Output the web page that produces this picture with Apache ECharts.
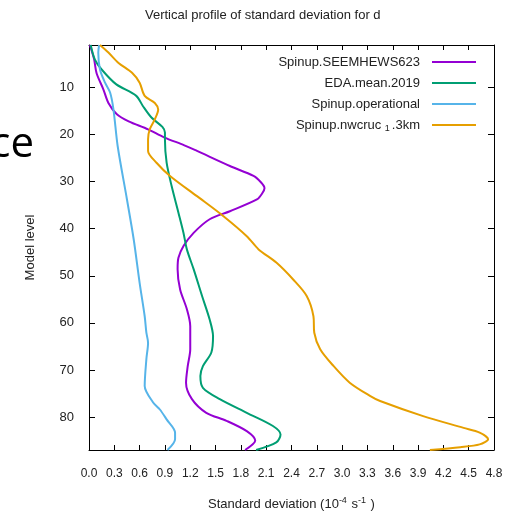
<!DOCTYPE html>
<html>
<head>
<meta charset="utf-8">
<script src="https://cdn.jsdelivr.net/npm/echarts@6/dist/echarts.min.js"></script>
<style>
  html, body { margin: 0; padding: 0; background: #fff; }
  #chart { width: 510px; height: 513px; }
</style>
</head>
<body>
<div id="chart"></div>
<script>
// model levels (y) and std dev values (x, 1e-4 s^-1)
const seemLevels = [1, 4, 7, 10.4, 13.3, 15.7, 17.2, 18.9, 20.6, 22.3, 23.5, 26.7, 28.8, 30.2, 31.4, 32.6, 33.8, 36.3, 38, 40.9, 43.7, 46.2, 48.6, 52.9, 57.1, 60.7, 65.6, 69.2, 72.7, 76.2, 79.1, 80.8, 83, 85, 87];
const seemValues = [0.01, 0.06, 0.09, 0.17, 0.23, 0.33, 0.47, 0.70, 0.89, 1.13, 1.28, 1.67, 1.95, 2.04, 2.08, 2.05, 1.99, 1.67, 1.43, 1.24, 1.12, 1.06, 1.05, 1.08, 1.16, 1.20, 1.20, 1.17, 1.15, 1.22, 1.39, 1.63, 1.87, 1.97, 1.85];

const edaLevels = [1, 4.1, 6.2, 9.3, 11.8, 14, 16.4, 18.4, 19.6, 21, 26, 31, 36.6, 40.9, 44.4, 48.6, 54.3, 59.3, 62.8, 66.3, 69.2, 71.3, 73.8, 76.2, 79.1, 81.9, 83.7, 85.4, 87];
const edaValues = [0.02, 0.07, 0.15, 0.32, 0.56, 0.64, 0.74, 0.87, 0.90, 0.90, 0.92, 0.98, 1.06, 1.12, 1.16, 1.24, 1.34, 1.43, 1.47, 1.45, 1.35, 1.32, 1.35, 1.55, 1.87, 2.18, 2.27, 2.22, 1.98];

const operLevels = [1, 2.6, 6.2, 9, 11.1, 14.7, 22.5, 33.8, 42.3, 51.5, 58.6, 62.1, 64.2, 67.7, 73.4, 76.9, 78.4, 80.5, 83.3, 84.7, 87];
const operValues = [0.12, 0.11, 0.13, 0.19, 0.25, 0.29, 0.34, 0.45, 0.53, 0.60, 0.66, 0.68, 0.70, 0.68, 0.66, 0.76, 0.84, 0.92, 1.02, 1.02, 0.93];

const nwcLevels = [1, 2.6, 4.8, 6.9, 9, 11.8, 13.3, 14.7, 16.8, 18.9, 21, 23.5, 26, 28.8, 33.1, 37.3, 41.6, 44.4, 47.2, 50.8, 54.3, 58.6, 62.1, 65.6, 69.2, 72.7, 75.5, 76.6, 79.8, 82.3, 83.3, 84.7, 85.8, 86.4, 87];
const nwcValues = [0.13, 0.23, 0.35, 0.51, 0.60, 0.66, 0.78, 0.82, 0.78, 0.72, 0.70, 0.70, 0.80, 0.96, 1.28, 1.59, 1.87, 2.01, 2.22, 2.42, 2.58, 2.66, 2.67, 2.74, 2.90, 3.09, 3.33, 3.45, 3.96, 4.44, 4.63, 4.73, 4.63, 4.40, 4.04];

const seriesNames = ['Spinup.SEEMHEWS623', 'EDA.mean.2019', 'Spinup.operational', 'Spinup.nwcruc_1.3km'];
const seriesColors = ['#9400d3', '#009e73', '#56b4e9', '#e69f00'];
const levelTicks = [10, 20, 30, 40, 50, 60, 70, 80];

const chart = echarts.init(document.getElementById('chart'));

const toPairs = (levels, values) => levels.map((l, i) => [values[i], l]);
const allData = [
  toPairs(seemLevels, seemValues),
  toPairs(edaLevels, edaValues),
  toPairs(operLevels, operValues),
  toPairs(nwcLevels, nwcValues)
];

const FONT = 'Liberation Sans';
const axisCommon = {
  axisLine: { show: true, onZero: false, lineStyle: { color: '#000', width: 1 } },
  splitLine: { show: false }
};

const option = {
  animation: false,
  textStyle: { fontFamily: FONT },
  graphic: [
    {
      type: 'text', left: 145, top: 9,
      style: { text: 'Vertical profile of standard deviation for d', font: '13px "Liberation Sans"', fill: '#222' }
    },
    {
      type: 'text', x: 34, y: 166,
      style: { text: 'ce', font: '42px "Open Sans"', fill: '#000', align: 'right', verticalAlign: 'bottom' }
    }
  ],
  grid: { left: 89, right: 16, top: 45, bottom: 63, outerBoundsMode: 'none', containLabel: false },
  legend: {
    orient: 'vertical',
    right: 29,
    top: 49,
    align: 'right',
    icon: 'rect',
    itemWidth: 44,
    itemHeight: 2,
    itemGap: 5,
    data: seriesNames,
    formatter: name => name === 'Spinup.nwcruc_1.3km' ? 'Spinup.nwcruc {sub|1}.3km' : name,
    textStyle: {
      fontFamily: FONT, fontSize: 13, color: '#222', lineHeight: 16, padding: [0, 7, 0, 0],
      rich: { sub: { fontSize: 9, lineHeight: 16, padding: [7, 2, 0, 0] } }
    }
  },
  xAxis: [
    Object.assign({
      type: 'value', position: 'bottom', min: 0, max: 4.8, interval: 0.3,
      name: 'Standard deviation (10{sup|-4} s{sup|-1} )',
      nameLocation: 'middle', nameGap: 46,
      nameTextStyle: {
        fontFamily: FONT, fontSize: 13, color: '#222',
        rich: { sup: { fontSize: 9, padding: [0, 1, 8, 0] } }
      },
      axisTick: { show: true, inside: true, length: 5, lineStyle: { color: '#000' } },
      axisLabel: { formatter: v => v.toFixed(1), fontSize: 12, color: '#222', margin: 18, fontFamily: FONT }
    }, axisCommon),
    Object.assign({
      type: 'value', position: 'top', min: 0, max: 4.8, interval: 0.3,
      axisTick: { show: true, inside: true, length: 5, lineStyle: { color: '#000' } },
      axisLabel: { show: false }
    }, axisCommon)
  ],
  yAxis: [
    Object.assign({
      type: 'value', position: 'left', inverse: true, min: 1, max: 87,
      name: 'Model level', nameLocation: 'middle', nameGap: 52,
      nameTextStyle: { fontFamily: FONT, fontSize: 13, color: '#222' },
      axisTick: { show: true, inside: true, length: 6, customValues: levelTicks, lineStyle: { color: '#000' } },
      axisLabel: { customValues: levelTicks, fontSize: 13, color: '#222', margin: 15, fontFamily: FONT }
    }, axisCommon),
    Object.assign({
      type: 'value', position: 'right', inverse: true, min: 1, max: 87,
      axisTick: { show: true, inside: true, length: 6, customValues: levelTicks, lineStyle: { color: '#000' } },
      axisLabel: { show: false }
    }, axisCommon)
  ],
  series: seriesNames.map((name, i) => ({
    name: name,
    type: 'line',
    xAxisIndex: 0,
    yAxisIndex: 0,
    data: allData[i],
    showSymbol: false,
    smooth: 0.3,
    color: seriesColors[i],
    lineStyle: { width: 2, color: seriesColors[i] },
    clip: true
  }))
};

chart.setOption(option);
</script>
</body>
</html>
